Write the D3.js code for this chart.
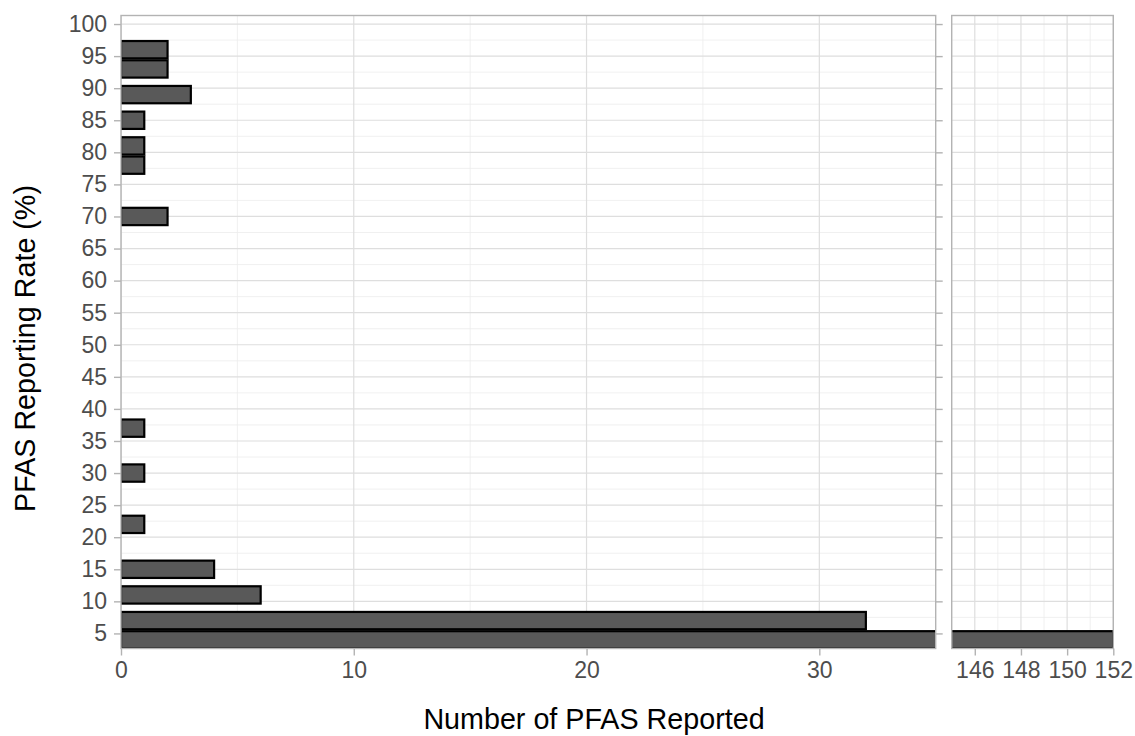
<!DOCTYPE html>
<html>
<head>
<meta charset="utf-8">
<script src="https://cdn.jsdelivr.net/npm/d3@7"></script>
<style>
  html, body { margin: 0; padding: 0; background: #ffffff; }
  svg { display: block; font-family: "Liberation Sans", Arial, sans-serif; }
</style>
</head>
<body>
<svg id="chart" width="1135" height="736"></svg>
<script>
// PFAS reporting rate (%) for each group and number of PFAS in it
const reportingRate = [96, 93, 89, 85, 81, 78, 70, 37, 30, 22, 15, 11, 7, 4];
const pfasCount     = [2, 2, 3, 1, 1, 1, 2, 1, 1, 1, 4, 6, 32, 152];

// axis breaks
const rateTicks = [5, 10, 15, 20, 25, 30, 35, 40, 45, 50, 55, 60, 65, 70, 75, 80, 85, 90, 95, 100];
const rateMinor = [7.5, 12.5, 17.5, 22.5, 27.5, 32.5, 37.5, 42.5, 47.5, 52.5, 57.5, 62.5, 67.5, 72.5, 77.5, 82.5, 87.5, 92.5, 97.5];
const countTicksLow  = [0, 10, 20, 30];
const countMinorLow  = [5, 15, 25, 35];
const countTicksHigh = [146, 148, 150, 152];
const countMinorHigh = [145, 147, 149, 151];

// broken count axis: two panels
const countDomainLow  = [0, 35];
const countDomainHigh = [145, 152];
const rateDomain = [2.65, 101.33];

const data = reportingRate.map((r, i) => ({ rate: r, count: pfasCount[i] }));

// bar thickness: 90% of the closest spacing between rates
const sorted = reportingRate.slice().sort((a, b) => a - b);
const minGap = d3.min(d3.pairs(sorted), p => p[1] - p[0]);
const barWidth = 0.9 * minGap;

const svg = d3.select("#chart");

const panelTop = 15.5, panelBottom = 648.5;
const y = d3.scaleLinear().domain(rateDomain).range([panelBottom, panelTop]);

const panels = [
  { id: "low",  x: d3.scaleLinear().domain(countDomainLow).range([121, 935.7]),
    major: countTicksLow, minor: countMinorLow, rightTicks: true },
  { id: "high", x: d3.scaleLinear().domain(countDomainHigh).range([951.7, 1113.3]),
    major: countTicksHigh, minor: countMinorHigh, rightTicks: false }
];

const gridMajor = "#dedede", gridMinor = "#ececec", frame = "#b3b3b3";
const tickLen = 7;

panels.forEach(p => {
  const [x0, x1] = p.x.range();
  const g = svg.append("g");

  g.append("clipPath").attr("id", "clip-" + p.id)
    .append("rect").attr("x", x0).attr("y", panelTop)
    .attr("width", x1 - x0).attr("height", panelBottom - panelTop);

  const inner = g.append("g").attr("clip-path", `url(#clip-${p.id})`);

  // minor grid
  inner.selectAll("line.hminor").data(rateMinor).join("line")
    .attr("class", "hminor")
    .attr("x1", x0).attr("x2", x1).attr("y1", d => y(d)).attr("y2", d => y(d))
    .attr("stroke", gridMinor).attr("stroke-width", 0.8);
  inner.selectAll("line.vminor").data(p.minor).join("line")
    .attr("class", "vminor")
    .attr("y1", panelTop).attr("y2", panelBottom).attr("x1", d => p.x(d)).attr("x2", d => p.x(d))
    .attr("stroke", gridMinor).attr("stroke-width", 0.8);
  // major grid
  inner.selectAll("line.hmajor").data(rateTicks).join("line")
    .attr("class", "hmajor")
    .attr("x1", x0).attr("x2", x1).attr("y1", d => y(d)).attr("y2", d => y(d))
    .attr("stroke", gridMajor).attr("stroke-width", 1.2);
  inner.selectAll("line.vmajor").data(p.major).join("line")
    .attr("class", "vmajor")
    .attr("y1", panelTop).attr("y2", panelBottom).attr("x1", d => p.x(d)).attr("x2", d => p.x(d))
    .attr("stroke", gridMajor).attr("stroke-width", 1.2);

  // bars
  inner.selectAll("rect.bar").data(data).join("rect")
    .attr("class", "bar")
    .attr("x", p.x(0))
    .attr("width", d => Math.max(0, p.x(d.count) - p.x(0)))
    .attr("y", d => y(d.rate + barWidth / 2))
    .attr("height", d => y(d.rate - barWidth / 2) - y(d.rate + barWidth / 2))
    .attr("fill", "#595959")
    .attr("stroke", "#000000")
    .attr("stroke-width", 2.2);

  // panel frame
  g.append("rect").attr("x", x0).attr("y", panelTop)
    .attr("width", x1 - x0).attr("height", panelBottom - panelTop)
    .attr("fill", "none").attr("stroke", frame).attr("stroke-width", 1.4);

  // bottom axis
  const xAxis = d3.axisBottom(p.x).tickValues(p.major).tickSize(tickLen).tickPadding(6).tickFormat(d3.format("d"));
  const ax = g.append("g").attr("transform", `translate(0,${panelBottom})`).call(xAxis);
  ax.select(".domain").remove();
  ax.selectAll(".tick line").attr("stroke", frame).attr("stroke-width", 1.4);
  ax.selectAll(".tick text").attr("fill", "#4d4d4d").attr("font-size", 23)
    .attr("font-family", "Liberation Sans, Arial, sans-serif");

  if (p.id === "low") {
    const yAxis = d3.axisLeft(y).tickValues(rateTicks).tickSize(tickLen).tickPadding(7);
    const ay = g.append("g").attr("transform", `translate(${x0},0)`).call(yAxis);
    ay.select(".domain").remove();
    ay.selectAll(".tick line").attr("stroke", frame).attr("stroke-width", 1.4);
    ay.selectAll(".tick text").attr("fill", "#4d4d4d").attr("font-size", 23)
      .attr("font-family", "Liberation Sans, Arial, sans-serif");
  }
  if (p.rightTicks) {
    const yr = d3.axisRight(y).tickValues(rateTicks).tickSize(tickLen).tickFormat("");
    const ar = g.append("g").attr("transform", `translate(${x1},0)`).call(yr);
    ar.select(".domain").remove();
    ar.selectAll(".tick line").attr("stroke", frame).attr("stroke-width", 1.4);
  }
});

// axis titles
svg.append("text")
  .attr("x", 594).attr("y", 729)
  .attr("text-anchor", "middle")
  .attr("font-size", 28.7).attr("fill", "#000000")
  .text("Number of PFAS Reported");

svg.append("text")
  .attr("transform", "translate(34.5,348.5) rotate(-90)")
  .attr("text-anchor", "middle")
  .attr("font-size", 28.7).attr("fill", "#000000")
  .text("PFAS Reporting Rate (%)");
</script>
</body>
</html>
